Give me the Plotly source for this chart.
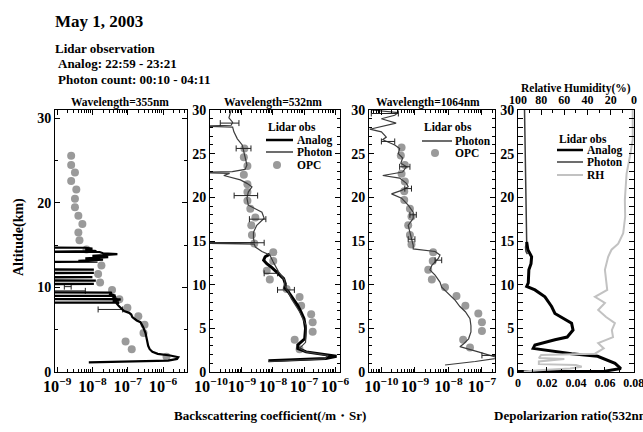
import plotly.graph_objects as go

W, H = 643, 432
FONT = "Liberation Serif"

# ---------------- data ----------------
# Panel 1: 355 nm
alt355 = [1.15, 1.25, 1.35, 1.55, 1.75, 1.95, 2.15, 2.4, 2.7, 3.1, 3.5, 4.2, 4.6, 5.3, 5.9, 6.1, 6.5, 6.8,
          7.0, 7.2, 7.5, 7.8, 8.05,
          8.2, 8.22, 8.24, 8.4, 8.6, 8.62, 8.64, 8.8, 9.0, 9.02, 9.04, 9.2, 9.4, 9.42,
          10.4, 10.42, 10.44, 10.8, 10.82, 10.84, 11.2, 11.22, 11.24, 11.7, 11.72, 11.74, 12.1, 12.12,
          12.14,
          13.0, 13.06, 13.15, 13.3, 13.45, 13.6, 13.75, 13.85, 13.95, 14.05, 14.2, 14.22, 14.3, 14.45,
          14.6, 14.7, 14.72]
beta355 = [7.9e-9, 3.2e-7, 1.4e-6, 2.5e-6, 2.7e-6, 1.6e-6, 7.1e-7, 5.0e-7, 4.2e-7, 3.8e-7, 3.6e-7, 3.4e-7,
           3.2e-7, 2.75e-7, 2.3e-7, 1.8e-7, 1.35e-7, 1.26e-7, 1.1e-7, 7.9e-8, 6.5e-8, 5.6e-8, 5.0e-8,
           5.6e-8, 2.5e-10, 5.6e-8, 3.8e-8, 6.3e-8, 2.5e-10, 5.0e-8, 4.0e-8, 4.5e-8, 2.5e-10, 4.5e-8,
           3.2e-8, 3.5e-8, 2.5e-10,
           2.5e-10, 1.1e-8, 2.5e-10, 2.5e-10, 1.25e-8, 2.5e-10, 2.5e-10, 1.0e-8, 2.5e-10, 2.5e-10, 1.1e-8,
           2.5e-10, 2.5e-10, 1.1e-8, 2.5e-10,
           2.5e-10, 1.4e-8, 4.0e-9, 2.0e-8, 6.3e-9, 2.8e-8, 1.0e-8, 4.0e-8, 5.1e-8, 2.0e-8, 1.6e-8, 2.5e-10,
           1.3e-8, 6.3e-9, 1.0e-8, 6.3e-9, 2.5e-10]
opc355_alt = [25.6, 24.5, 23.6, 22.6, 21.6, 20.5, 19.5, 18.5, 17.5, 16.5, 15.6, 14.5, 12.6, 11.6, 10.6,
              9.7, 8.6, 7.6, 6.6, 5.6, 4.6, 3.6, 2.7, 1.8]
opc355 = [2.5e-9, 2.5e-9, 3.2e-9, 2.5e-9, 3.5e-9, 3.2e-9, 3.2e-9, 4.0e-9, 5.2e-9, 4.0e-9, 4.3e-9, 6.8e-9,
          1.8e-8, 1.45e-8, 1.65e-8, 3.6e-8, 5.8e-8, 9.8e-8, 2.0e-7, 3.0e-7, 2.8e-7, 8.7e-8, 1.3e-7, 1.26e-6]
err355_alt = [10.1, 9.6, 7.4]
err355_mid = [2.0e-9, 2.5e-9, 3.2e-8]
err355_lo = [1.6e-9, 8.0e-10, 1.45e-8]
err355_hi = [2.5e-9, 6.3e-9, 7.2e-8]

# Panel 2: 532 nm
alt532_ph = [30.0, 29.5, 29.1, 28.6, 28.25, 28.15, 28.05, 27.5, 26.7, 26.0, 25.2, 24.5, 23.7, 23.2, 22.95,
             22.85, 22.75, 22.5, 22.0, 21.6, 21.2, 20.6, 19.9, 19.1, 18.3, 17.6, 16.8, 16.0, 15.3, 14.85,
             14.75, 14.65, 14.3, 13.8, 13.4, 12.6, 11.5, 10.5, 9.9, 9.2, 8.4, 6.9, 5.3, 4.6, 3.4, 2.7, 2.3,
             1.9, 1.5, 1.2]
beta532_ph = [4.5e-10, 4.0e-10, 3.8e-10, 5.0e-10, 4.5e-10, 3.2e-11, 5.0e-10, 5.5e-10, 7.1e-10, 1.02e-9,
              1.15e-9, 1.3e-9, 1.45e-9, 1.26e-9, 4.9e-10, 3.2e-11, 4.0e-10, 2.6e-10, 8.9e-10, 1.45e-9,
              2.1e-9, 1.6e-9, 1.45e-9, 1.6e-9, 4.4e-9, 5.2e-9, 3.0e-9, 2.35e-9, 2.35e-9, 2.5e-9, 3.2e-11,
              2.5e-9, 2.7e-9, 4.4e-9, 7.9e-9, 1.02e-8, 1.5e-8, 2.4e-8, 2.4e-8, 3.1e-8, 3.9e-8, 7.2e-8,
              1.17e-7, 1.17e-7, 1.12e-7, 7.2e-8, 1.17e-7, 5.8e-7, 4.7e-7, 7.1e-9]
alt532_an = [13.5, 13.2, 12.8, 12.4, 12.0, 11.5, 10.7, 10.1, 9.6, 9.2, 8.4, 7.6, 6.9, 6.1, 5.0, 3.8, 3.1,
             2.7, 2.3, 2.0, 1.8, 1.55, 1.3]
beta532_an = [7.9e-9, 5.6e-9, 5.0e-9, 6.3e-9, 8.9e-9, 1.3e-8, 2.2e-8, 2.5e-8, 2.4e-8, 3.1e-8, 4.5e-8,
              6.3e-8, 7.9e-8, 1.0e-7, 1.12e-7, 1.05e-7, 6.3e-8, 6.3e-8, 1.17e-7, 5.8e-7, 1.12e-6, 5.0e-7,
              7.1e-9]
opc532_alt = [25.6, 24.6, 23.6, 22.6, 21.5, 20.6, 19.6, 18.7, 17.7, 16.8, 15.7, 14.7, 13.7, 12.7, 11.6,
              10.6, 9.5, 8.6, 7.6, 6.6, 5.7, 4.6, 3.7, 2.6]
opc532 = [1.2e-9, 1.15e-9, 1.5e-9, 1.15e-9, 1.5e-9, 1.5e-9, 1.5e-9, 1.86e-9, 2.7e-9, 2.0e-9, 2.1e-9, 2.5e-9,
          1.02e-8, 1.02e-8, 6.3e-9, 7.9e-9, 2.75e-8, 7.2e-8, 8.1e-8, 1.7e-7, 1.9e-7, 1.9e-7, 5.0e-8, 7.2e-8]
err532_alt = [28.5, 25.6, 20.2, 17.5, 14.8, 11.3, 9.4]
err532_mid = [4.5e-10, 1.15e-9, 1.4e-9, 3.2e-9, 2.5e-9, 1.0e-8, 3.0e-8]
err532_lo = [2.0e-10, 6.5e-10, 5.6e-10, 1.74e-9, 1.0e-11, 5.2e-9, 1.4e-8]
err532_hi = [8.0e-10, 1.95e-9, 3.2e-9, 5.9e-9, 5.2e-9, 1.4e-8, 4.9e-8]

# Panel 3: 1064 nm
alt1064 = [30.0, 29.7, 29.4, 29.0, 28.5, 28.1, 27.8, 27.5, 26.9, 26.6, 26.0, 25.6, 25.0, 24.5, 23.9, 23.5,
           22.9, 22.5, 22.2, 21.6, 21.2, 20.8, 20.4, 19.9, 19.1, 18.3, 17.6, 16.8, 16.0, 15.3, 14.5, 14.1,
           13.9, 13.8, 13.4, 13.0, 12.2, 11.7, 11.1, 10.3, 9.7, 9.0, 8.2, 7.5, 6.9, 6.1, 5.3, 4.6, 3.8, 3.2,
           2.9, 2.3, 1.9, 1.6, 1.2, 0.8]
beta1064 = [5.0e-11, 3.2e-10, 2.5e-10, 1.0e-10, 2.75e-10, 1.0e-10, 4.5e-11, 1.0e-10, 1.4e-10, 1.1e-10,
            2.5e-10, 3.5e-10, 3.2e-10, 4.3e-10, 3.8e-10, 5.6e-10, 4.3e-10, 1.1e-10, 3.5e-10, 5.6e-10, 6.3e-10,
            4.0e-10, 2.0e-10, 4.0e-10, 6.3e-10, 8.9e-10, 8.9e-10, 6.3e-10, 7.1e-10, 7.9e-10, 8.9e-10, 8.9e-10,
            2.0e-9, 4.0e-9, 5.6e-9, 5.0e-9, 3.2e-9, 2.8e-9, 4.0e-9, 5.6e-9, 6.3e-9, 1.0e-8, 1.6e-8, 2.2e-8,
            3.2e-8, 4.4e-8, 4.7e-8, 4.7e-8, 4.0e-8, 2.8e-8, 2.2e-8, 7.8e-8, 1.95e-7, 3.2e-7, 6.3e-8, 7.9e-9]
opc1064_alt = [25.7, 24.8, 23.7, 22.7, 21.8, 20.7, 19.7, 18.7, 17.8, 16.8, 15.7, 14.6, 13.7, 12.7, 11.7,
               10.6, 9.7, 8.7, 7.6, 6.7, 5.7, 4.7, 3.7, 2.8]
opc1064 = [4.0e-10, 3.8e-10, 5.0e-10, 4.0e-10, 5.0e-10, 4.8e-10, 4.8e-10, 7.1e-10, 7.9e-10, 6.3e-10,
           7.1e-10, 7.9e-10, 3.5e-9, 3.4e-9, 2.5e-9, 3.2e-9, 7.9e-9, 1.74e-8, 3.2e-8, 7.8e-8, 1.0e-7,
           1.0e-7, 2.75e-8, 4.4e-8]
err1064_alt = [29.6, 26.4, 23.5, 21.0, 18.0, 15.2, 12.8, 1.9]
err1064_mid = [1.3e-10, 1.6e-10, 5.0e-10, 6.3e-10, 8.9e-10, 7.9e-10, 5.0e-9, 1.9e-7]
err1064_lo = [5.0e-11, 1.0e-10, 3.5e-10, 5.0e-10, 7.1e-10, 6.3e-10, 4.0e-9, 1.0e-7]
err1064_hi = [3.2e-10, 2.5e-10, 7.1e-10, 7.9e-10, 1.1e-9, 1.0e-9, 6.3e-9, 3.0e-7]

# Panel 4: depolarization ratio (532 nm) and relative humidity
alt_dep_ph = [30.0, 27.0, 24.7, 22.0, 20.0, 17.0, 15.5, 14.9, 14.3, 13.8, 13.5]
dep_ph = [0.0045, 0.0048, 0.005, 0.0052, 0.0054, 0.0056, 0.0058, 0.006, 0.0052, 0.0055, 0.0065]
alt_dep_an = [14.9, 14.0, 13.2, 12.4, 11.7, 10.9, 10.2, 9.8, 9.4, 8.6, 7.5, 6.7, 6.3, 5.6, 4.8, 4.0, 3.7,
              3.1, 2.7, 2.1, 1.8, 1.0, 0.4, 0.1, 0.05]
dep_an = [0.006, 0.0068, 0.0094, 0.009, 0.0075, 0.0072, 0.0071, 0.006, 0.0117, 0.0186, 0.0232, 0.0255,
          0.030, 0.037, 0.038, 0.034, 0.0255, 0.0117, 0.0105, 0.037, 0.055, 0.067, 0.071, 0.06, 0.0]
alt_rh = [30.0, 26.6, 24.7, 22.7, 19.7, 17.8, 15.9, 14.7, 14.0, 13.2, 11.7, 10.5, 9.4, 8.6, 7.9, 7.1, 6.3,
          5.6, 4.8, 4.0, 3.3, 2.7, 2.1, 1.95, 1.6, 1.5, 1.2, 0.9, 0.8, 0.6, 0.4, 0.2, 0.05]
rh = [1, 1, 3.4, 6.3, 7.8, 7.5, 9.2, 13.5, 19.3, 22.2, 25.0, 24.0, 23.0, 33.6, 25.0, 30.8, 24.0, 16.4, 19.0,
      18.0, 30.8, 26.0, 33.6, 80.0, 82.0, 60.0, 82.0, 82.0, 50.0, 45.0, 55.0, 82.0, 95.0]

# ---------------- layout helpers ----------------
def fx(p):
    return p / W

def fy(p):
    return 1 - p / H

TOP, BOT = 110, 372
ydom = [fy(BOT), fy(TOP)]

black = "#000000"
ph_col = "#3c3c3c"
opc_col = "#9a9a9a"
rh_col = "#c2c2c2"

tickfont = dict(family=FONT, size=14, color="black", weight="bold")
xtickfont = dict(family=FONT, size=13, color="black", weight="bold")

fig = go.Figure()


def opc_trace(xv, yv, xa, ya):
    return go.Scatter(x=xv, y=yv, mode="markers", xaxis=xa, yaxis=ya, showlegend=False,
                      marker=dict(size=8, color=opc_col, line=dict(width=0)))


def line_trace(xv, yv, xa, ya, color, width):
    return go.Scatter(x=xv, y=yv, mode="lines", xaxis=xa, yaxis=ya, showlegend=False,
                      line=dict(color=color, width=width))


def err_trace(mid, lo, hi, yv, xa, ya):
    plus = [h - m for h, m in zip(hi, mid)]
    minus = [m - l for m, l in zip(mid, lo)]
    return go.Scatter(x=mid, y=yv, mode="markers", xaxis=xa, yaxis=ya, showlegend=False,
                      marker=dict(size=1, color="rgba(0,0,0,0)"),
                      error_x=dict(type="data", symmetric=False, array=plus, arrayminus=minus,
                                   color="#222222", thickness=1, width=3))

# Panel 1
fig.add_trace(opc_trace(opc355, opc355_alt, "x", "y"))
fig.add_trace(err_trace(err355_mid, err355_lo, err355_hi, err355_alt, "x", "y"))
fig.add_trace(line_trace(beta355, alt355, "x", "y", black, 2.2))
# Panel 2
fig.add_trace(opc_trace(opc532, opc532_alt, "x2", "y2"))
fig.add_trace(line_trace(beta532_an, alt532_an, "x2", "y2", black, 3))
fig.add_trace(line_trace(beta532_ph, alt532_ph, "x2", "y2", ph_col, 1.2))
fig.add_trace(err_trace(err532_mid, err532_lo, err532_hi, err532_alt, "x2", "y2"))
# Panel 3
fig.add_trace(opc_trace(opc1064, opc1064_alt, "x3", "y3"))
fig.add_trace(line_trace(beta1064, alt1064, "x3", "y3", ph_col, 1.2))
fig.add_trace(err_trace(err1064_mid, err1064_lo, err1064_hi, err1064_alt, "x3", "y3"))
# Panel 4
fig.add_trace(line_trace(rh, alt_rh, "x5", "y4", rh_col, 2))
fig.add_trace(line_trace(dep_ph, alt_dep_ph, "x4", "y4", ph_col, 1.5))
fig.add_trace(line_trace(dep_an, alt_dep_an, "x4", "y4", black, 3))


def logx(dom, rng, anchor):
    return dict(type="log", domain=[fx(dom[0]), fx(dom[1])], range=rng, anchor=anchor, automargin=False,
                showline=True, linecolor="black", linewidth=1, mirror="allticks",
                ticks="inside", ticklen=5, tickwidth=1, tickcolor="black", dtick=1, tickangle=0,
                exponentformat="power", showgrid=False, zeroline=False, tickfont=xtickfont,
                minor=dict(ticks="inside", ticklen=3, tickcolor="black", dtick="D1", showgrid=False))


def liny(rng, anchor, dtick, mdtick):
    return dict(domain=ydom, range=rng, anchor=anchor, automargin=False, showline=True, linecolor="black",
                linewidth=1, mirror="allticks", ticks="inside", ticklen=5, tickwidth=1, tickcolor="black",
                dtick=dtick, showgrid=False, zeroline=False, tickfont=tickfont,
                minor=dict(ticks="inside", ticklen=3, tickcolor="black", dtick=mdtick, showgrid=False))


small_font = dict(family=FONT, size=12, color="black", weight="bold")

fig.update_layout(
    width=W, height=H, margin=dict(l=0, r=0, t=0, b=0, autoexpand=False),
    paper_bgcolor="white", plot_bgcolor="white", showlegend=False,
    xaxis=logx((55, 187), [-9.06, -5.32], "y"),
    yaxis=liny([0, 31], "x", 10, 5),
    xaxis2=logx((210, 340), [-10.03, -5.84], "y2"),
    yaxis2=liny([0, 30], "x2", 5, 1),
    xaxis3=logx((369, 495), [-10.37, -6.61], "y3"),
    yaxis3=liny([0, 30], "x3", 5, 1),
    xaxis4=dict(domain=[fx(518), fx(634)], range=[0, 0.0801], anchor="y4", automargin=False, showline=True,
                linecolor="black", linewidth=1, mirror=False, ticks="inside", ticklen=5,
                tickcolor="black", tick0=0, dtick=0.02, tickangle=0, showgrid=False, zeroline=False,
                tickfont=small_font, ticklabeloverflow="allow",
                minor=dict(ticks="inside", ticklen=3, tickcolor="black", dtick=0.01, showgrid=False)),
    xaxis5=dict(overlaying="x4", side="top", anchor="y4", range=[100, -0.1], automargin=False,
                showline=True, linecolor="black", linewidth=1, ticks="inside", ticklen=5,
                tickcolor="black", tick0=0, dtick=20, tickangle=0, showgrid=False, zeroline=False,
                tickfont=small_font, ticklabeloverflow="allow",
                minor=dict(ticks="inside", ticklen=3, tickcolor="black", dtick=10, showgrid=False)),
    yaxis4=liny([0, 30], "x4", 5, 1),
)

ann = []


def text(x, y, s, size, xanchor="left", angle=0):
    ann.append(dict(x=fx(x), y=fy(y), xref="paper", yref="paper", text=s, showarrow=False,
                    xanchor=xanchor, yanchor="middle", textangle=angle,
                    font=dict(family=FONT, size=size, color="black", weight="bold")))


text(53, 21, "May 1, 2003", 17)
text(53, 48, "Lidar observation", 13)
text(56, 63, "Analog: 22:59 - 23:21", 13)
text(56, 80, "Photon count: 00:10 - 04:11", 13)
text(120, 102, "Wavelength=355nm", 11.5, "center")
text(273, 102, "Wavelength=532nm", 11.5, "center")
text(428, 102, "Wavelength=1064nm", 11.5, "center")
text(576, 88, "Relative Humidity(%)", 11.5, "center")
text(19, 237, "Altitude(km)", 14, "center", -90)
text(270, 415, "Backscattering coefficient(/m・Sr)", 13, "center")
text(492, 415, "Depolarizarion ratio(532nm)", 13)

shapes = []


def leg_line(x0, x1, y, color, width):
    shapes.append(dict(type="line", xref="paper", yref="paper", x0=fx(x0), x1=fx(x1), y0=fy(y), y1=fy(y),
                       line=dict(color=color, width=width)))


def leg_dot(x, y, r=4):
    shapes.append(dict(type="circle", xref="paper", yref="paper", x0=fx(x - r), x1=fx(x + r),
                       y0=fy(y + r), y1=fy(y - r), fillcolor=opc_col, line=dict(width=0)))

# legend panel 2
text(266, 127, "Lidar obs", 11.5)
leg_line(266, 293, 140, black, 2.5)
text(295, 140, "Analog", 11.5)
leg_line(266, 293, 152, ph_col, 1.5)
text(295, 152, "Photon", 11.5)
leg_dot(277, 165)
text(295, 165, "OPC", 11.5)
# legend panel 3
text(422, 127, "Lidar obs", 11.5)
leg_line(422, 452, 141, ph_col, 1.5)
text(453, 141, "Photon", 11.5)
leg_dot(435, 153)
text(453, 153, "OPC", 11.5)
# legend panel 4
text(557, 139, "Lidar obs", 11.5)
leg_line(557, 583, 150, black, 2.5)
text(585, 150, "Analog", 11.5)
leg_line(557, 583, 162, ph_col, 1.5)
text(585, 162, "Photon", 11.5)
leg_line(557, 583, 175, rh_col, 2)
text(585, 175, "RH", 11.5)

fig.update_layout(annotations=ann, shapes=shapes)
fig.write_html("out.html", config={"displayModeBar": False},
               post_script="document.body.style.margin='0px';document.body.style.overflow='hidden';")
